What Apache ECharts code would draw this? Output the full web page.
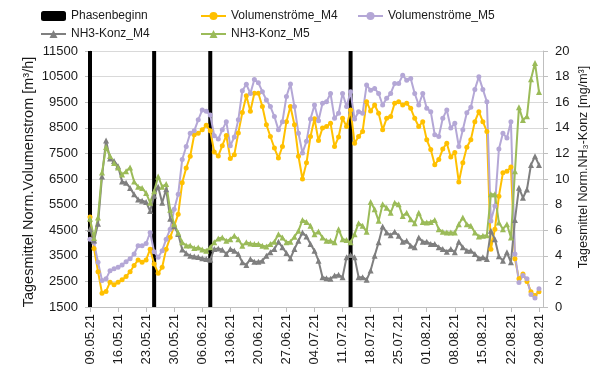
<!DOCTYPE html>
<html><head><meta charset="utf-8">
<script src="https://cdn.jsdelivr.net/npm/echarts@6/dist/echarts.min.js"></script>
<style>html,body{margin:0;padding:0;background:#fff}#c{width:600px;height:374px}</style>
</head><body><div id="c"></div>
<script>
const dates = [
"09.05.21","10.05.21","11.05.21","12.05.21","13.05.21","14.05.21","15.05.21","16.05.21","17.05.21","18.05.21","19.05.21","20.05.21","21.05.21","22.05.21","23.05.21","24.05.21","25.05.21","26.05.21","27.05.21","28.05.21","29.05.21","30.05.21","31.05.21",
"01.06.21","02.06.21","03.06.21","04.06.21","05.06.21","06.06.21","07.06.21","08.06.21","09.06.21","10.06.21","11.06.21","12.06.21","13.06.21","14.06.21","15.06.21","16.06.21","17.06.21","18.06.21","19.06.21","20.06.21","21.06.21","22.06.21","23.06.21","24.06.21","25.06.21","26.06.21","27.06.21","28.06.21","29.06.21","30.06.21",
"01.07.21","02.07.21","03.07.21","04.07.21","05.07.21","06.07.21","07.07.21","08.07.21","09.07.21","10.07.21","11.07.21","12.07.21","13.07.21","14.07.21","15.07.21","16.07.21","17.07.21","18.07.21","19.07.21","20.07.21","21.07.21","22.07.21","23.07.21","24.07.21","25.07.21","26.07.21","27.07.21","28.07.21","29.07.21","30.07.21","31.07.21",
"01.08.21","02.08.21","03.08.21","04.08.21","05.08.21","06.08.21","07.08.21","08.08.21","09.08.21","10.08.21","11.08.21","12.08.21","13.08.21","14.08.21","15.08.21","16.08.21","17.08.21","18.08.21","19.08.21","20.08.21","21.08.21","22.08.21","23.08.21","24.08.21","25.08.21","26.08.21","27.08.21","28.08.21","29.08.21","30.08.21"];

const phaseStarts = ["09.05.21","25.05.21","08.06.21","13.07.21"];
const phaseHeight = 20;

const volM4 = [5020,3790,2880,2040,2110,2470,2370,2470,2560,2690,2880,3120,3340,3250,3340,3760,3180,2820,3050,3760,4220,4670,5120,
6350,6930,7390,8230,8290,8420,8600,8380,7550,7400,7800,8200,7300,7450,8300,9100,9750,9150,9850,9850,9330,8620,8160,7710,7320,7770,8740,9330,8620,7390,
6500,7130,8160,8850,8000,8490,8550,8680,7770,8140,8870,8550,9200,7900,8160,8360,9520,9160,9390,9070,8420,8870,8940,9460,9520,9390,9460,9260,8870,8550,
8740,8030,7650,7060,7260,7670,7900,7360,7540,6380,7130,7740,8030,8740,9130,8740,8360,3760,4540,5830,6740,6800,6970,3380,2600,2790,2500,2100,1950,2100];

const volM5 = [4150,4020,3250,2540,2600,2920,2990,3050,3140,3270,3380,3570,3890,3890,3980,4410,3660,3440,3700,4150,4540,5320,5900,
7260,7770,8290,8380,8810,9200,9150,9000,8190,8060,8420,8740,7800,8140,8810,9950,10200,9840,10390,10260,9910,9590,9330,8940,8420,8740,9720,10210,9330,8290,
7520,7970,8840,9390,8780,9460,9520,9840,8870,9070,9840,9330,9910,8840,9130,9070,10170,9970,10040,9840,9390,9650,9840,10230,10230,10550,10360,10430,9840,9390,
9840,9260,9130,8230,8160,8870,9200,8490,8680,7770,8420,9090,9300,10000,10490,10000,9520,4860,5450,7670,8290,8100,8740,3570,2460,2730,2600,1990,1850,2210];

const nh3M4 = [6.1,5.2,6.5,10.2,13.0,11.6,11.4,11.0,9.8,9.7,9.3,8.8,8.4,8.3,8.2,7.5,8.7,9.4,8.15,9.2,6.9,6.3,5.7,
4.5,4.2,4.0,3.95,3.9,3.8,3.75,3.7,4.53,4.58,4.48,4.14,4.53,4.4,4.14,3.49,3.29,3.75,3.54,3.54,3.62,4.0,4.27,4.53,5.1,4.66,4.22,3.8,4.53,5.17,
5.82,5.51,4.92,4.4,3.62,2.33,2.25,2.2,2.46,2.51,2.33,3.88,4.06,3.88,2.33,2.33,2.12,2.85,4.0,5.05,6.29,5.82,5.61,5.87,5.56,5.1,5.17,4.79,4.66,5.43,
5.1,5.1,4.92,4.92,4.66,4.53,4.32,4.53,4.27,5.1,4.66,4.4,4.4,4.14,3.8,3.88,3.75,5.95,5.3,3.96,3.62,4.27,3.49,6.8,9.31,8.54,9.18,11.1,11.77,11.1];

const nh3M5 = [6.9,5.4,7.0,10.5,12.5,11.8,11.25,10.9,10.35,10.6,10.9,9.8,9.4,9.3,8.9,8.15,9.05,10.2,9.4,9.6,7.6,6.47,5.8,
5.05,4.8,4.8,4.6,4.65,4.5,4.4,4.66,5.05,5.36,5.43,5.17,5.3,5.56,5.3,4.79,5.05,4.97,4.92,4.92,4.79,4.73,4.92,5.1,5.69,5.43,5.05,5.1,5.49,5.95,
6.8,6.65,6.34,5.69,5.9,5.43,5.17,5.17,5.05,6.08,5.3,5.23,5.05,5.69,6.55,6.34,5.87,8.2,7.63,6.73,8.02,7.76,7.37,8.15,8.02,7.11,7.37,6.86,6.55,7.37,
6.65,6.6,6.65,6.8,6.08,5.87,5.82,5.82,5.82,6.47,6.99,6.47,6.34,5.82,5.51,5.56,5.61,8.8,8.8,6.6,6.08,6.47,5.43,10.6,15.6,14.6,14.9,17.8,19.07,16.8];

const leftTitle = 'Tagesmittel Norm.Volumenstrom [m³/h]';
const rightTitle = 'Tagesmittel Norm.NH₃-Konz [mg/m³]';

const phaseData = dates.map(d => phaseStarts.includes(d) ? phaseHeight : null);

const FONT = 'Liberation Sans';
const TC = '#1a1a1a';
const chart = echarts.init(document.getElementById('c'), null, {renderer:'canvas'});
const txt = {fontFamily: FONT, fontSize: 13, color: TC};
const lineSeries = (name, data, color, symbol, yIdx) => ({
  name, type:'line', data, yAxisIndex: yIdx, symbol, symbolSize: symbol==='triangle'?6:5,
  showAllSymbol:true,
  lineStyle:{color, width:2}, itemStyle:{color}, animation:false
});
const legTxt = {fontFamily: FONT, fontSize: 12, color: TC};
chart.setOption({
  animation:false,
  textStyle: txt,
  grid:{left:90, right:57, top:51, bottom:67},
  legend:[
    {data:['Phasenbeginn','NH3-Konz_M4'], orient:'vertical', left:40, top:10, itemGap:6, itemWidth:25, itemHeight:10, textStyle:legTxt, padding:0},
    {data:['Volumenströme_M4','NH3-Konz_M5'], orient:'vertical', left:200, top:10, itemGap:6, itemWidth:25, itemHeight:10, textStyle:legTxt, padding:0},
    {data:['Volumenströme_M5'], orient:'vertical', left:357, top:10, itemGap:6, itemWidth:25, itemHeight:10, textStyle:legTxt, padding:0}
  ],
  xAxis:{type:'category', data:dates, boundaryGap:false,
    axisLine:{lineStyle:{color:'#bfbfbf'}},
    axisTick:{interval:6, length:5, lineStyle:{color:'#bfbfbf'}},
    axisLabel:Object.assign({},txt,{interval:6, rotate:90, margin:7})
  },
  yAxis:[
    {type:'value', min:1500, max:11500, interval:1000, position:'left',
     axisLine:{show:true, lineStyle:{color:'#bfbfbf'}}, axisTick:{show:true, length:5, lineStyle:{color:'#bfbfbf'}},
     axisLabel:Object.assign({},txt,{margin:12, formatter:v=>String(v)}),
     splitLine:{lineStyle:{color:'#d9d9d9'}}},
    {type:'value', min:0, max:20, interval:2, position:'right',
     axisLine:{show:true, lineStyle:{color:'#bfbfbf'}}, axisTick:{show:true, length:5, lineStyle:{color:'#bfbfbf'}},
     axisLabel:Object.assign({},txt,{margin:12, formatter:v=>String(v)}),
     splitLine:{show:false}}
  ],
  graphic:[
    {type:'text', x:29, y:182, rotation:Math.PI/2, silent:true,
     style:{text:leftTitle, font:'14.5px "Liberation Sans"', fill:TC, align:'center', verticalAlign:'middle', textAlign:'center', textVerticalAlign:'middle'}},
    {type:'text', x:584, y:167, rotation:Math.PI/2, silent:true,
     style:{text:rightTitle, font:'12.5px "Liberation Sans"', fill:TC, align:'center', verticalAlign:'middle', textAlign:'center', textVerticalAlign:'middle'}}
  ],
  series:[
    {name:'Phasenbeginn', type:'bar', yAxisIndex:1, data:phaseData, barWidth:4, itemStyle:{color:'#000'}, animation:false},
    lineSeries('Volumenströme_M4', volM4, '#FFC000', 'circle', 0),
    lineSeries('Volumenströme_M5', volM5, '#B4A7D6', 'circle', 0),
    lineSeries('NH3-Konz_M4', nh3M4, '#7F7F7F', 'triangle', 1),
    lineSeries('NH3-Konz_M5', nh3M5, '#9BBB59', 'triangle', 1)
  ]
});
</script></body></html>
